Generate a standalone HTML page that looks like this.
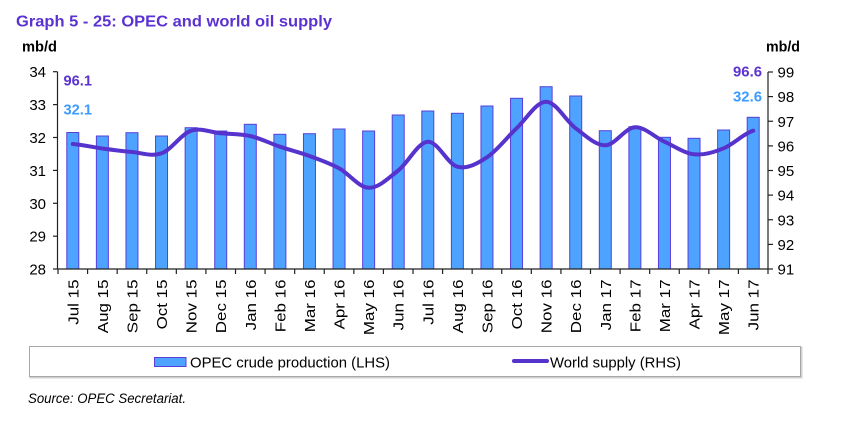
<!DOCTYPE html>
<html>
<head>
<meta charset="utf-8">
<style>
html,body{margin:0;padding:0;background:#fff;}
svg{display:block;}
text{font-family:"Liberation Sans",Arial,sans-serif;}
</style>
</head>
<body>
<svg width="841" height="432" viewBox="0 0 841 432" xmlns="http://www.w3.org/2000/svg">
<rect width="841" height="432" fill="#fff"/>
<!-- Title -->
<text x="16" y="26.5" font-size="16" font-weight="bold" fill="#5b32d2" textLength="316" lengthAdjust="spacingAndGlyphs">Graph 5 - 25: OPEC and world oil supply</text>
<text x="22" y="51.5" font-size="15" font-weight="bold" fill="#000" textLength="35" lengthAdjust="spacingAndGlyphs">mb/d</text>
<text x="766" y="51.5" font-size="15" font-weight="bold" fill="#000" textLength="34" lengthAdjust="spacingAndGlyphs">mb/d</text>

<!-- Bars -->
<g fill="#4da3ff" stroke="#5a3fd9" stroke-width="1">
<rect x="66.79" y="132.5" width="12" height="136.5"/>
<rect x="96.38" y="136" width="12" height="133"/>
<rect x="125.96" y="132.7" width="12" height="136.3"/>
<rect x="155.54" y="136" width="12" height="133"/>
<rect x="185.13" y="127.7" width="12" height="141.3"/>
<rect x="214.71" y="131" width="12" height="138"/>
<rect x="244.29" y="124.3" width="12" height="144.7"/>
<rect x="273.88" y="134.3" width="12" height="134.7"/>
<rect x="303.46" y="133.7" width="12" height="135.3"/>
<rect x="333.04" y="129" width="12" height="140"/>
<rect x="362.63" y="131" width="12" height="138"/>
<rect x="392.21" y="115" width="12" height="154"/>
<rect x="421.79" y="111" width="12" height="158"/>
<rect x="451.38" y="113.3" width="12" height="155.7"/>
<rect x="480.96" y="106" width="12" height="163"/>
<rect x="510.54" y="98.3" width="12" height="170.7"/>
<rect x="540.13" y="86.7" width="12" height="182.3"/>
<rect x="569.71" y="96" width="12" height="173"/>
<rect x="599.29" y="130.7" width="12" height="138.3"/>
<rect x="628.88" y="126.7" width="12" height="142.3"/>
<rect x="658.46" y="137.3" width="12" height="131.7"/>
<rect x="688.04" y="138.3" width="12" height="130.7"/>
<rect x="717.63" y="130" width="12" height="139"/>
<rect x="747.21" y="117.3" width="12" height="151.7"/>
</g>

<!-- World supply line -->
<path fill="none" stroke="#5533cc" stroke-width="4" stroke-linecap="round" stroke-linejoin="round" d="M72.79,144
C82.65,144.75 92.51,147.17 102.38,148.5
C112.24,149.83 122.1,151.2 131.96,152
C141.82,152.8 151.68,156.85 161.54,153.3
C171.4,149.75 181.26,134.03 191.13,130.7
C200.99,127.37 210.85,132.42 220.71,133.3
C230.57,134.18 240.43,133.77 250.29,136
C260.15,138.23 270.01,143.37 279.88,146.7
C289.74,150.03 299.6,152.4 309.46,156
C319.32,159.6 329.18,163 339.04,168.3
C348.9,173.6 358.76,187.43 368.63,187.8
C378.49,188.17 388.35,178.18 398.21,170.5
C408.07,162.82 417.93,142.33 427.79,141.7
C437.65,141.07 447.51,164.1 457.38,166.7
C467.24,169.3 477.1,163.7 486.96,157.3
C496.82,150.9 506.68,137.57 516.54,128.3
C526.4,119.03 536.26,101.7 546.13,101.7
C555.99,101.7 565.85,121.03 575.71,128.3
C585.57,135.57 595.43,145.47 605.29,145.3
C615.15,145.13 625.01,127.9 634.88,127.3
C644.74,126.7 654.6,137.2 664.46,141.7
C674.32,146.2 684.18,153.2 694.04,154.3
C703.9,155.4 713.76,152.23 723.63,148.3
C733.49,144.37 743.35,133.63 753.21,130.7"/>

<!-- Axes -->
<g stroke="#222" stroke-width="1.2" fill="none">
<line x1="57.5" y1="71.7" x2="57.5" y2="269"/>
<line x1="768" y1="72" x2="768" y2="269"/>
<line x1="57.5" y1="269" x2="768" y2="269"/>
<!-- left ticks -->
<line x1="53" y1="71.7" x2="57.5" y2="71.7"/>
<line x1="53" y1="104.6" x2="57.5" y2="104.6"/>
<line x1="53" y1="137.5" x2="57.5" y2="137.5"/>
<line x1="53" y1="170.4" x2="57.5" y2="170.4"/>
<line x1="53" y1="203.3" x2="57.5" y2="203.3"/>
<line x1="53" y1="236.2" x2="57.5" y2="236.2"/>
<line x1="53" y1="269" x2="57.5" y2="269"/>
<!-- right ticks -->
<line x1="768" y1="72" x2="773" y2="72"/>
<line x1="768" y1="96.6" x2="773" y2="96.6"/>
<line x1="768" y1="121.25" x2="773" y2="121.25"/>
<line x1="768" y1="145.9" x2="773" y2="145.9"/>
<line x1="768" y1="170.5" x2="773" y2="170.5"/>
<line x1="768" y1="195.1" x2="773" y2="195.1"/>
<line x1="768" y1="219.75" x2="773" y2="219.75"/>
<line x1="768" y1="244.4" x2="773" y2="244.4"/>
<line x1="768" y1="269" x2="773" y2="269"/>
<!-- category ticks -->
<path d="M58,269v5M87.58,269v5M117.17,269v5M146.75,269v5M176.33,269v5M205.92,269v5M235.5,269v5M265.08,269v5M294.67,269v5M324.25,269v5M353.83,269v5M383.42,269v5M413,269v5M442.58,269v5M472.17,269v5M501.75,269v5M531.33,269v5M560.92,269v5M590.5,269v5M620.08,269v5M649.67,269v5M679.25,269v5M708.83,269v5M738.42,269v5M768,269v5"/>
</g>

<!-- Left tick labels -->
<g font-size="15" fill="#000" text-anchor="end">
<text x="46" y="77.2">34</text>
<text x="46" y="110.1">33</text>
<text x="46" y="143">32</text>
<text x="46" y="175.9">31</text>
<text x="46" y="208.8">30</text>
<text x="46" y="241.7">29</text>
<text x="46" y="274.5">28</text>
</g>
<!-- Right tick labels -->
<g font-size="15" fill="#000">
<text x="777.5" y="77.5">99</text>
<text x="777.5" y="102.1">98</text>
<text x="777.5" y="126.75">97</text>
<text x="777.5" y="151.4">96</text>
<text x="777.5" y="176">95</text>
<text x="777.5" y="200.6">94</text>
<text x="777.5" y="225.25">93</text>
<text x="777.5" y="249.9">92</text>
<text x="777.5" y="274.5">91</text>
</g>

<!-- Value labels -->
<g font-size="15" font-weight="bold">
<text x="63.5" y="85.5" fill="#5b32d2" textLength="28.5" lengthAdjust="spacingAndGlyphs">96.1</text>
<text x="63.5" y="114.3" fill="#3d9bff" textLength="28.5" lengthAdjust="spacingAndGlyphs">32.1</text>
<text x="733" y="76.5" fill="#5b32d2" textLength="29" lengthAdjust="spacingAndGlyphs">96.6</text>
<text x="733" y="101.7" fill="#3d9bff" textLength="29" lengthAdjust="spacingAndGlyphs">32.6</text>
</g>

<!-- Category labels -->
<g font-size="15" fill="#000" text-anchor="end">
<text transform="translate(78.3,279.5) rotate(-90) scale(1.13,1)">Jul 15</text>
<text transform="translate(107.9,279.5) rotate(-90) scale(1.13,1)">Aug 15</text>
<text transform="translate(137.5,279.5) rotate(-90) scale(1.13,1)">Sep 15</text>
<text transform="translate(167.0,279.5) rotate(-90) scale(1.13,1)">Oct 15</text>
<text transform="translate(196.6,279.5) rotate(-90) scale(1.13,1)">Nov 15</text>
<text transform="translate(226.2,279.5) rotate(-90) scale(1.13,1)">Dec 15</text>
<text transform="translate(255.8,279.5) rotate(-90) scale(1.13,1)">Jan 16</text>
<text transform="translate(285.4,279.5) rotate(-90) scale(1.13,1)">Feb 16</text>
<text transform="translate(315.0,279.5) rotate(-90) scale(1.13,1)">Mar 16</text>
<text transform="translate(344.5,279.5) rotate(-90) scale(1.13,1)">Apr 16</text>
<text transform="translate(374.1,279.5) rotate(-90) scale(1.13,1)">May 16</text>
<text transform="translate(403.7,279.5) rotate(-90) scale(1.13,1)">Jun 16</text>
<text transform="translate(433.3,279.5) rotate(-90) scale(1.13,1)">Jul 16</text>
<text transform="translate(462.9,279.5) rotate(-90) scale(1.13,1)">Aug 16</text>
<text transform="translate(492.5,279.5) rotate(-90) scale(1.13,1)">Sep 16</text>
<text transform="translate(522.0,279.5) rotate(-90) scale(1.13,1)">Oct 16</text>
<text transform="translate(551.6,279.5) rotate(-90) scale(1.13,1)">Nov 16</text>
<text transform="translate(581.2,279.5) rotate(-90) scale(1.13,1)">Dec 16</text>
<text transform="translate(610.8,279.5) rotate(-90) scale(1.13,1)">Jan 17</text>
<text transform="translate(640.4,279.5) rotate(-90) scale(1.13,1)">Feb 17</text>
<text transform="translate(670.0,279.5) rotate(-90) scale(1.13,1)">Mar 17</text>
<text transform="translate(699.5,279.5) rotate(-90) scale(1.13,1)">Apr 17</text>
<text transform="translate(729.1,279.5) rotate(-90) scale(1.13,1)">May 17</text>
<text transform="translate(758.7,279.5) rotate(-90) scale(1.13,1)">Jun 17</text>
</g>

<!-- Legend -->
<rect x="30.5" y="347.5" width="771" height="30" fill="none" stroke="#d0d0d0" stroke-width="2"/>
<rect x="29.5" y="346.5" width="771" height="30" fill="#fff" stroke="#a8a8a8" stroke-width="1"/>
<rect x="154.5" y="357.5" width="31.5" height="9" fill="#4da3ff" stroke="#5a3fd9" stroke-width="1"/>
<text x="190" y="367.5" font-size="15" fill="#000" textLength="200" lengthAdjust="spacingAndGlyphs">OPEC crude production (LHS)</text>
<line x1="514" y1="361" x2="547" y2="361" stroke="#5533cc" stroke-width="4" stroke-linecap="round"/>
<text x="550" y="367.5" font-size="15" fill="#000" textLength="131" lengthAdjust="spacingAndGlyphs">World supply (RHS)</text>

<!-- Source -->
<text x="28" y="403" font-size="13.5" font-style="italic" fill="#000" textLength="158" lengthAdjust="spacingAndGlyphs">Source: OPEC Secretariat.</text>
</svg>
</body>
</html>
